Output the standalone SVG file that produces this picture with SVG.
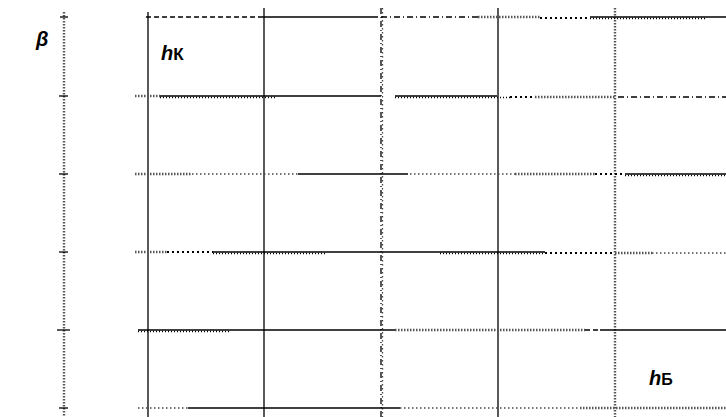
<svg xmlns="http://www.w3.org/2000/svg" width="726" height="417" viewBox="0 0 726 417">
<style>
.s{stroke:#000;stroke-width:1.3;fill:none}
.d{stroke:#000;stroke-width:1.3;stroke-dasharray:5 3;fill:none}
.dd{stroke:#000;stroke-width:1.3;stroke-dasharray:6 3 1 3;fill:none}
.dt{stroke:#444;stroke-width:1.3;stroke-dasharray:1.5 2.5;fill:none}
.w{stroke:#555;stroke-width:2.4;stroke-dasharray:1.5 1.5;fill:none}
.tk{stroke:#000;stroke-width:1.6;stroke-dasharray:1 2;fill:none}
.tr{stroke:#000;stroke-width:2.2;stroke-dasharray:2 3;fill:none}
.lbl{font-family:"Liberation Sans",Arial,sans-serif;font-weight:bold;font-style:italic;fill:#000}
</style>
<rect width="726" height="417" fill="#fff"/>
<g id="axis">
<line class="w" x1="64" y1="12" x2="64" y2="417"/>
<g class="s">
<line x1="60" y1="17" x2="68" y2="17"/>
<line x1="59" y1="96" x2="68" y2="96"/>
<line x1="59" y1="174" x2="68" y2="174"/>
<line x1="59" y1="252" x2="68" y2="252"/>
<line x1="57" y1="330" x2="70" y2="330"/>
<line x1="59" y1="408" x2="68" y2="408"/>
</g>
</g>
<g id="verticals">
<line class="s" x1="148" y1="12" x2="148" y2="417"/>
<line class="s" x1="264" y1="8" x2="264" y2="417"/>
<line class="dd" x1="381" y1="8" x2="381" y2="417"/>
<line class="dt" x1="382.5" y1="8" x2="382.5" y2="417"/>
<line class="s" x1="498" y1="8" x2="498" y2="417"/>
<line class="w" x1="615" y1="8" x2="615" y2="417"/>
</g>
<g id="row1">
<line class="d" x1="146" y1="17" x2="262" y2="17"/>
<line class="s" x1="262" y1="17" x2="378" y2="17"/>
<line class="dd" x1="381" y1="17" x2="478" y2="17"/>
<line class="w" x1="478" y1="17" x2="540" y2="17"/>
<line class="tr" x1="540" y1="18" x2="590" y2="18"/>
<line class="s" x1="590" y1="17" x2="726" y2="17"/>
<line class="tk" x1="590" y1="18.5" x2="705" y2="18.5"/>
</g>
<g id="row2">
<line class="w" x1="135" y1="96" x2="160" y2="96"/>
<line class="s" x1="160" y1="96" x2="381" y2="96"/>
<line class="tk" x1="160" y1="97.5" x2="277" y2="97.5"/>
<line class="s" x1="395" y1="96" x2="497" y2="96"/>
<line class="tk" x1="395" y1="97.5" x2="510" y2="97.5"/>
<line class="tr" x1="510" y1="97" x2="535" y2="97"/>
<line class="w" x1="535" y1="97" x2="615" y2="97"/>
<line class="dd" x1="618" y1="97" x2="726" y2="97"/>
</g>
<g id="row3">
<line class="w" x1="135" y1="174" x2="192" y2="174"/>
<line class="dt" x1="192" y1="174" x2="298" y2="174"/>
<line class="s" x1="298" y1="174" x2="408" y2="174"/>
<line class="dt" x1="410" y1="174" x2="515" y2="174"/>
<line class="w" x1="515" y1="174" x2="595" y2="174"/>
<line class="tr" x1="595" y1="174" x2="625" y2="174"/>
<line class="s" x1="625" y1="174" x2="726" y2="174"/>
<line class="tk" x1="625" y1="175.5" x2="726" y2="175.5"/>
</g>
<g id="row4">
<line class="w" x1="135" y1="252" x2="167" y2="252"/>
<line class="tr" x1="167" y1="252" x2="213" y2="252"/>
<line class="s" x1="213" y1="252" x2="545" y2="252"/>
<line class="tk" x1="213" y1="253.5" x2="325" y2="253.5"/>
<line class="tk" x1="440" y1="253.5" x2="545" y2="253.5"/>
<line class="tr" x1="545" y1="253" x2="615" y2="253"/>
<line class="w" x1="615" y1="253" x2="652" y2="253"/>
<line class="dt" x1="652" y1="253" x2="726" y2="253"/>
</g>
<g id="row5">
<line class="s" x1="138" y1="330" x2="395" y2="330"/>
<line class="tk" x1="138" y1="331.5" x2="230" y2="331.5"/>
<line class="w" x1="395" y1="330" x2="585" y2="330"/>
<line class="d" x1="585" y1="330" x2="600" y2="330"/>
<line class="s" x1="600" y1="330" x2="726" y2="330"/>
</g>
<g id="row6">
<line class="dt" x1="138" y1="408" x2="188" y2="408"/>
<line class="s" x1="188" y1="408" x2="400" y2="408"/>
<line class="dt" x1="400" y1="408" x2="580" y2="408"/>
<line class="w" x1="580" y1="408" x2="726" y2="408"/>
</g>
<g id="labels">
<text class="lbl" x="36" y="46" font-size="20">β</text>
<text class="lbl" x="161" y="60" font-size="20">h<tspan font-size="17" font-style="normal">К</tspan></text>
<text class="lbl" x="649" y="385" font-size="20">h<tspan font-size="16" font-style="normal">Б</tspan></text>
</g>
</svg>
